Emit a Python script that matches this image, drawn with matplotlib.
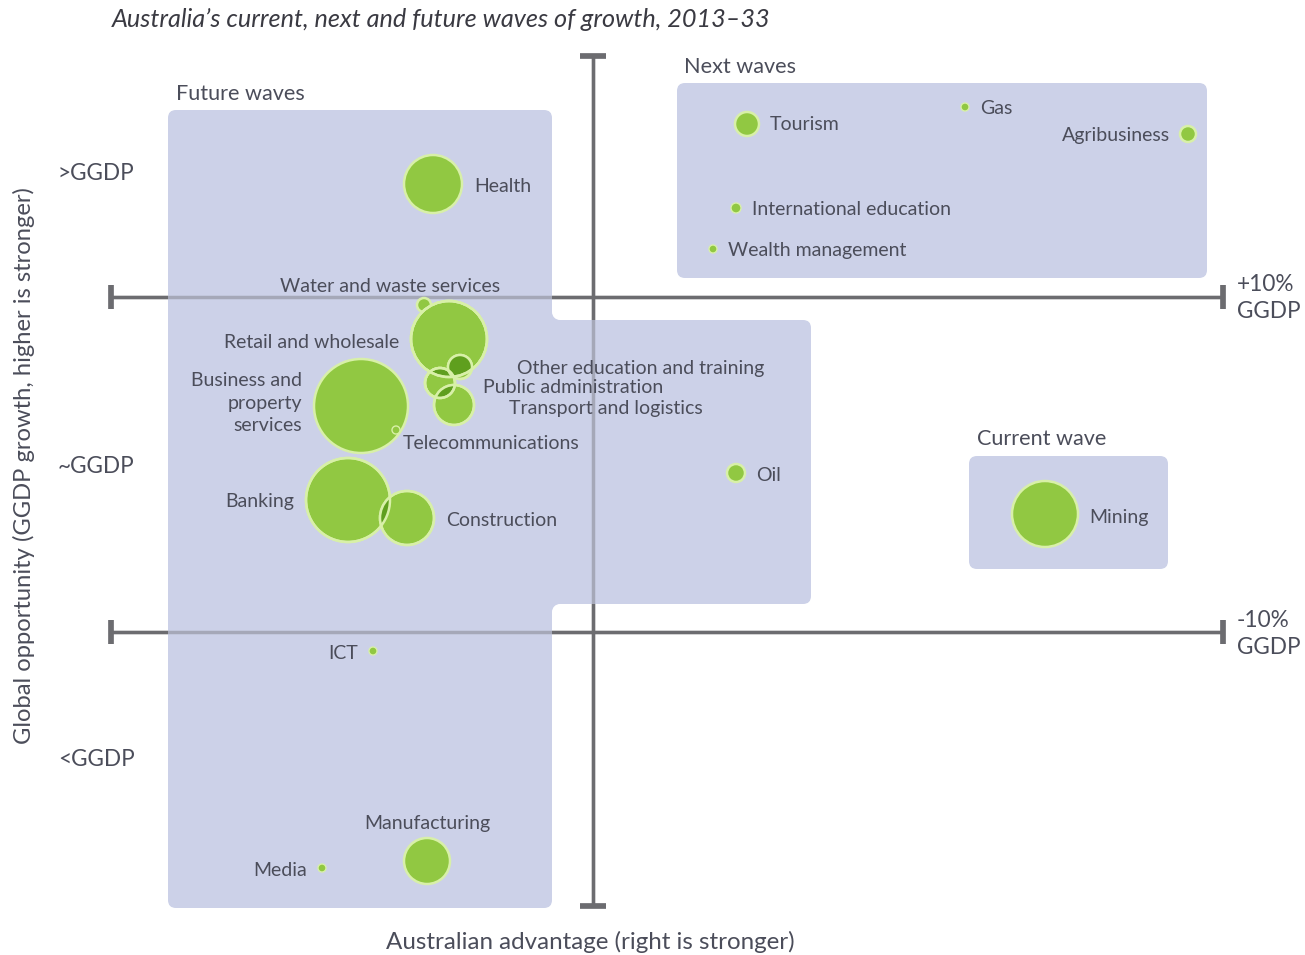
import matplotlib
matplotlib.use("Agg")
import matplotlib.pyplot as plt
from matplotlib.patches import Circle, FancyBboxPatch

FONT = "Lato"
plt.rcParams["font.family"] = [FONT, "DejaVu Sans"]

# Sector bubbles: advantage (x, right is stronger), opportunity (y, drawn top = stronger), bubble radius
sectors = ["Health", "Water and waste services", "Retail and wholesale",
           "Other education and training", "Public administration",
           "Transport and logistics", "Business and\nproperty\nservices",
           "Telecommunications", "Banking", "Construction", "ICT",
           "Manufacturing", "Media", "Oil", "Mining", "Tourism", "Gas",
           "Agribusiness", "International education", "Wealth management"]
advantage = [433, 424, 449, 460, 440, 454, 361, 396, 348, 407, 373,
             427, 322, 736, 1045, 747, 965, 1188, 736, 713]
opportunity = [184, 305, 339, 367, 383, 405, 406, 430, 500, 518, 651,
               861, 868, 473, 514, 124, 107, 134, 208, 249]
radius = [29, 7, 38, 12, 15, 20, 47, 4, 42, 27, 4,
          23, 4, 9, 33, 12, 4, 8, 5, 4]

# Label placement for each sector: (x, y, horizontal alignment)
label_pos = {
    "Health": (474, 186, "left"),
    "Water and waste services": (390, 286, "center"),
    "Retail and wholesale": (399, 342, "right"),
    "Other education and training": (517, 368, "left"),
    "Public administration": (483, 387, "left"),
    "Transport and logistics": (509, 408, "left"),
    "Business and\nproperty\nservices": (302, 403, "right"),
    "Telecommunications": (403, 443, "left"),
    "Banking": (294, 501, "right"),
    "Construction": (446, 520, "left"),
    "ICT": (358, 653, "right"),
    "Manufacturing": (427, 823, "center"),
    "Media": (307, 870, "right"),
    "Oil": (756, 475, "left"),
    "Mining": (1089, 517, "left"),
    "Tourism": (770, 125, "left"),
    "Gas": (980, 108, "left"),
    "Agribusiness": (1170, 136, "right"),
    "International education": (752, 209, "left"),
    "Wealth management": (728, 250, "left"),
}

# Pairs of overlapping bubbles whose intersection is shaded darker
overlaps = [("Retail and wholesale", "Other education and training"),
            ("Retail and wholesale", "Public administration"),
            ("Public administration", "Transport and logistics"),
            ("Banking", "Construction")]

y_levels = [">GGDP", "~GGDP", "<GGDP"]
band_labels = ["+10%\nGGDP", "-10%\nGGDP"]

TEXT = "#4b4d5a"
AXIS = "#6c6c70"
SHADE = "#ccd1e8"
GREEN = "#91c842"
GREEN_EDGE = "#d8f0a8"
GREEN_DARK = "#5f9f1e"

fig = plt.figure(figsize=(13.05, 9.55), dpi=100)
ax = fig.add_axes([0, 0, 1, 1])
ax.set_xlim(0, 1305)
ax.set_ylim(955, 0)
ax.set_aspect("equal")
ax.axis("off")

# Axis bars (thin) with heavier end caps
bars = [(593, 55, 593, 907), (110, 297, 1224, 297), (110, 632, 1224, 632)]
caps = [(580, 56, 606, 56), (580, 906, 606, 906)]
for yy in (297, 632):
    caps += [(111, yy - 12, 111, yy + 12), (1223, yy - 12, 1223, yy + 12)]

def draw_bars(z, alpha):
    for x0, y0, x1, y1 in bars:
        ax.plot([x0, x1], [y0, y1], color=AXIS, lw=2.5, alpha=alpha,
                solid_capstyle="butt", zorder=z)
    for x0, y0, x1, y1 in caps:
        ax.plot([x0, x1], [y0, y1], color=AXIS, lw=4.0, alpha=alpha,
                solid_capstyle="butt", zorder=z)

draw_bars(1, 1.0)

# Shaded wave regions
def rounded(x, y, w, h, r=8):
    ax.add_patch(FancyBboxPatch((x + r, y + r), w - 2 * r, h - 2 * r,
                                boxstyle=f"round,pad={r}", fc=SHADE, ec="none",
                                zorder=2))

rounded(168, 110, 384, 798)
rounded(530, 320, 281, 284)
rounded(677, 83, 530, 195)
rounded(969, 456, 199, 113)

# Concave fillets where the future-wave blocks join
for cy, sy in ((312, 312), (612, 604)):
    ax.add_patch(plt.Rectangle((552, sy), 8, 8, fc=SHADE, ec="none", zorder=2))
    ax.add_patch(Circle((560, cy), 8, fc="white", ec="none", zorder=2.1))

# Lines show faintly through the shaded regions
draw_bars(2.5, 0.4)

region_labels = [("Future waves", 176, 94), ("Next waves", 684, 67), ("Current wave", 977, 439)]
for txt, x, y in region_labels:
    ax.text(x, y, txt, fontsize=15.6, color=TEXT, ha="left", va="center", zorder=6)

# Bubbles
idx = {s: i for i, s in enumerate(sectors)}
for s, x, y, r in zip(sectors, advantage, opportunity, radius):
    ax.add_patch(Circle((x, y), r, fc=GREEN, ec=GREEN_EDGE, lw=1.8 if r > 6 else 1.0, zorder=3))

for a, b in overlaps:
    ia, ib = idx[a], idx[b]
    clip = Circle((advantage[ia], opportunity[ia]), radius[ia], transform=ax.transData)
    lens = Circle((advantage[ib], opportunity[ib]), radius[ib], fc=GREEN_DARK, ec="none", zorder=3.5)
    ax.add_patch(lens)
    lens.set_clip_path(clip)
    for i in (ia, ib):
        ax.add_patch(Circle((advantage[i], opportunity[i]), radius[i], fc="none",
                            ec=GREEN_EDGE, lw=1.8, zorder=3.6))

for s in sectors:
    x, y, ha = label_pos[s]
    ax.text(x, y, s, fontsize=14, color=TEXT, ha=ha, va="center",
            linespacing=1.4, zorder=6)

# Axis texts
for txt, y in zip(y_levels, [173, 466, 759]):
    ax.text(58, y, txt, fontsize=16.3, color=TEXT, ha="left", va="center")
for txt, y in zip(band_labels, [298, 634]):
    ax.text(1237, y, txt, fontsize=16.3, color=TEXT, ha="left", va="center", linespacing=1.35)

ax.text(24, 466, "Global opportunity (GGDP growth, higher is stronger)", fontsize=17.1,
        color=TEXT, rotation=90, ha="center", va="center")
ax.text(590, 942, "Australian advantage (right is stronger)", fontsize=17.4,
        color=TEXT, ha="center", va="center")
ax.text(112, 19, "Australia\u2019s current, next and future waves of growth, 2013\u201333",
        fontsize=18.2, color="#3a3a42", style="italic", ha="left", va="center")

fig.savefig("out.png", dpi=100, facecolor="white")
